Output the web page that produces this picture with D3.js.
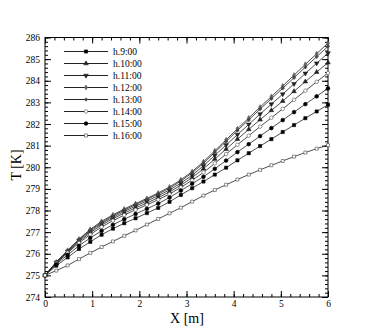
<!DOCTYPE html>
<html>
<head>
<meta charset="utf-8">
<script src="https://cdn.jsdelivr.net/npm/d3@7"></script>
<style>
  body { margin: 0; background: #fff; }
  svg text { font-family: "Liberation Serif", "DejaVu Serif", serif; fill: #000; }
</style>
</head>
<body>
<script>
// X positions of the computed points [m]
let xs = [0, 0.24, 0.48, 0.72, 0.96, 1.2, 1.44, 1.68, 1.92, 2.16, 2.4, 2.64, 2.88,
    3.12, 3.36, 3.6, 3.84, 4.08, 4.32, 4.56, 4.8, 5.04, 5.28, 5.52, 5.76, 6.0];

// Temperature [K] per hour
let h0900 = [275.00, 275.45, 275.83, 276.22, 276.55, 276.88, 277.16, 277.41, 277.64, 277.88, 278.12, 278.40, 278.72,
    279.03, 279.34, 279.66, 279.98, 280.32, 280.65, 280.98, 281.30, 281.63, 281.95, 282.27, 282.58, 282.89];
let h1000 = [275.00, 275.58, 276.08, 276.56, 276.97, 277.33, 277.62, 277.88, 278.12, 278.35, 278.59, 278.86, 279.17,
    279.52, 279.93, 280.38, 280.84, 281.30, 281.75, 282.20, 282.63, 283.06, 283.51, 283.96, 284.40, 284.84];
let h1100 = [275.00, 275.60, 276.11, 276.61, 277.04, 277.40, 277.69, 277.96, 278.20, 278.44, 278.68, 278.95, 279.27,
    279.63, 280.07, 280.55, 281.03, 281.51, 281.98, 282.46, 282.92, 283.38, 283.86, 284.34, 284.81, 285.28];
let h1200 = [275.00, 275.62, 276.16, 276.68, 277.13, 277.50, 277.80, 278.07, 278.32, 278.56, 278.81, 279.09, 279.42,
    279.80, 280.26, 280.76, 281.27, 281.78, 282.28, 282.78, 283.27, 283.76, 284.26, 284.76, 285.25, 285.74];
let h1300 = [275.00, 275.61, 276.14, 276.65, 277.09, 277.45, 277.75, 278.02, 278.27, 278.51, 278.76, 279.03, 279.36,
    279.74, 280.19, 280.69, 281.19, 281.70, 282.19, 282.69, 283.17, 283.65, 284.14, 284.63, 285.11, 285.59];
let h1400 = [275.00, 275.56, 276.04, 276.50, 276.89, 277.24, 277.53, 277.79, 278.03, 278.26, 278.50, 278.76, 279.07,
    279.40, 279.76, 280.18, 280.61, 281.04, 281.46, 281.88, 282.29, 282.70, 283.12, 283.54, 283.95, 284.36];
let h1500 = [275.00, 275.51, 275.95, 276.37, 276.73, 277.06, 277.34, 277.60, 277.84, 278.08, 278.32, 278.60, 278.92,
    279.24, 279.56, 279.93, 280.31, 280.70, 281.07, 281.44, 281.81, 282.18, 282.55, 282.92, 283.28, 283.65];
let h1600 = [275.00, 275.22, 275.46, 275.75, 276.04, 276.31, 276.57, 276.83, 277.08, 277.35, 277.61, 277.87, 278.13,
    278.41, 278.69, 278.95, 279.19, 279.43, 279.66, 279.88, 280.09, 280.29, 280.49, 280.68, 280.86, 281.02];

let labels = ['h.9:00', 'h.10:00', 'h.11:00', 'h.12:00', 'h.13:00', 'h.14:00', 'h.15:00', 'h.16:00'];
let values = [h0900, h1000, h1100, h1200, h1300, h1400, h1500, h1600];

let xTicks = [0, 1, 2, 3, 4, 5, 6];
let yTicks = [274, 275, 276, 277, 278, 279, 280, 281, 282, 283, 284, 285, 286];

// marker style per series
let markers = [
    {type: d3.symbolSquare, size: 10, fill: '#000', stroke: '#000', rot: 0},
    {type: d3.symbolTriangle, size: 9, fill: '#222', stroke: '#222', rot: 0},
    {type: d3.symbolTriangle, size: 9, fill: '#222', stroke: '#222', rot: 180},
    {type: d3.symbolDiamond, size: 7, fill: '#666', stroke: '#555', rot: 0},
    {type: d3.symbolCross, size: 5, fill: '#444', stroke: '#444', rot: 0},
    {type: d3.symbolCircle, size: 10, fill: '#fff', stroke: '#555', rot: 0},
    {type: d3.symbolCircle, size: 11, fill: '#000', stroke: '#000', rot: 0},
    {type: d3.symbolSquare, size: 9, fill: '#fff', stroke: '#444', rot: 0}
];

let W = 372, H = 332;
let pad = {left: 45, right: 328, top: 37.5, bottom: 297};

let svg = d3.select('body').append('svg')
    .attr('width', W)
    .attr('height', H);

let x = d3.scaleLinear().domain([0, 6]).range([pad.left, pad.right]);
let y = d3.scaleLinear().domain([274, 286]).range([pad.bottom, pad.top]);

let minorX = d3.range(0, 6.001, 0.2).map(d => +d.toFixed(1));
let minorY = d3.range(274, 286.001, 0.2).map(d => +d.toFixed(1));

function styleAxis(g) {
    g.select('.domain').remove();
    g.selectAll('line').attr('stroke', '#000').attr('stroke-width', 1);
    g.selectAll('text').style('font-size', '9.5px').style('font-family', '"Liberation Serif", serif');
}

// bottom + top
svg.append('g').attr('transform', `translate(0,${pad.bottom})`)
    .call(d3.axisBottom(x).tickValues(minorX).tickSize(-3).tickFormat(''))
    .call(styleAxis);
svg.append('g').attr('transform', `translate(0,${pad.bottom})`)
    .call(d3.axisBottom(x).tickValues(xTicks).tickSize(-6).tickPadding(3).tickFormat(d3.format('d')))
    .call(styleAxis);
svg.append('g').attr('transform', `translate(0,${pad.top})`)
    .call(d3.axisTop(x).tickValues(minorX).tickSize(-3).tickFormat(''))
    .call(styleAxis);
svg.append('g').attr('transform', `translate(0,${pad.top})`)
    .call(d3.axisTop(x).tickValues(xTicks).tickSize(-6).tickFormat(''))
    .call(styleAxis);

// left + right
svg.append('g').attr('transform', `translate(${pad.left},0)`)
    .call(d3.axisLeft(y).tickValues(minorY).tickSize(-3).tickFormat(''))
    .call(styleAxis);
svg.append('g').attr('transform', `translate(${pad.left},0)`)
    .call(d3.axisLeft(y).tickValues(yTicks).tickSize(-6).tickPadding(5).tickFormat(d3.format('d')))
    .call(styleAxis);
svg.append('g').attr('transform', `translate(${pad.right},0)`)
    .call(d3.axisRight(y).tickValues(minorY).tickSize(-3).tickFormat(''))
    .call(styleAxis);
svg.append('g').attr('transform', `translate(${pad.right},0)`)
    .call(d3.axisRight(y).tickValues(yTicks).tickSize(-6).tickFormat(''))
    .call(styleAxis);

// frame
svg.append('rect')
    .attr('x', pad.left).attr('y', pad.top)
    .attr('width', pad.right - pad.left).attr('height', pad.bottom - pad.top)
    .attr('fill', 'none').attr('stroke', '#000').attr('stroke-width', 1);

let line = d3.line()
    .x((d, i) => x(xs[i]))
    .y(d => y(d));

let plot = svg.append('g');

values.forEach((vals, s) => {
    let m = markers[s];
    plot.append('path')
        .datum(vals)
        .attr('d', line)
        .attr('fill', 'none')
        .attr('stroke', '#222')
        .attr('stroke-width', 0.8);

    plot.selectAll(`.mk-${s}`)
        .data(vals)
        .enter().append('path')
        .attr('class', `mk-${s}`)
        .attr('d', d3.symbol().type(m.type).size(m.size))
        .attr('transform', (d, i) => `translate(${x(xs[i])},${y(d)}) rotate(${m.rot})`)
        .attr('fill', m.fill)
        .attr('stroke', m.stroke)
        .attr('stroke-width', 0.6);
});

// legend
let legend = svg.append('g');
labels.forEach((lab, s) => {
    let m = markers[s];
    let ly = 51.5 + s * 12;
    legend.append('line')
        .attr('x1', 64).attr('x2', 108)
        .attr('y1', ly).attr('y2', ly)
        .attr('stroke', '#222').attr('stroke-width', 1);
    legend.append('path')
        .attr('d', d3.symbol().type(m.type).size(m.size))
        .attr('transform', `translate(86,${ly}) rotate(${m.rot})`)
        .attr('fill', m.fill)
        .attr('stroke', m.stroke)
        .attr('stroke-width', 0.6);
    legend.append('text')
        .attr('x', 113).attr('y', ly)
        .attr('dy', '0.35em')
        .style('font-size', '9.5px')
        .text(lab);
});

// axis titles
svg.append('text')
    .attr('x', 187).attr('y', 323)
    .attr('text-anchor', 'middle')
    .style('font-size', '14px')
    .text('X [m]');

svg.append('text')
    .attr('transform', 'translate(21,165) rotate(-90)')
    .attr('text-anchor', 'middle')
    .style('font-size', '14px')
    .text('T [K]');
</script>
</body>
</html>
